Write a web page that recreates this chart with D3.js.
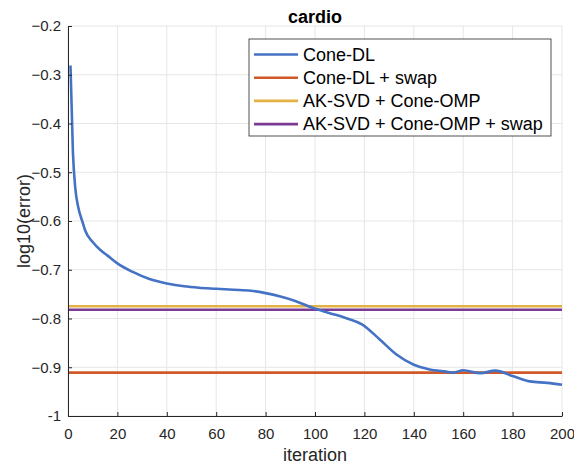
<!DOCTYPE html>
<html>
<head>
<meta charset="utf-8">
<script src="https://cdn.jsdelivr.net/npm/d3@7"></script>
<style>
  body { margin: 0; background: #fff; }
  svg { font-family: "Liberation Sans", Arial, sans-serif; }
  .grid line { stroke: #e6e6e6; stroke-width: 1; }
  .axis path, .axis line { stroke: #262626; }
  .axis text { fill: #262626; font-size: 15px; }
</style>
</head>
<body>
<script>
// Cone-DL error per iteration
var iters = [1, 2, 3, 4, 6, 7, 10, 13, 16, 20, 26, 33, 40, 47, 53, 60, 67, 74, 80, 86, 92,
  99, 106, 113, 119, 126, 133, 140, 146, 153, 156, 160, 167, 173, 180, 187, 194, 200];
var coneDL = [-0.281, -0.46, -0.535, -0.568, -0.604, -0.62, -0.643, -0.659, -0.671, -0.687,
  -0.704, -0.719, -0.728, -0.734, -0.737, -0.739, -0.741, -0.743, -0.748, -0.755, -0.764,
  -0.778, -0.789, -0.80, -0.812, -0.842, -0.874, -0.895, -0.904, -0.909, -0.911,
  -0.906, -0.912, -0.907, -0.918, -0.929, -0.932, -0.936];

// constant baselines
var seriesNames = ["Cone-DL", "Cone-DL + swap", "AK-SVD + Cone-OMP", "AK-SVD + Cone-OMP + swap"];
var flatValues = [null, -0.911, -0.775, -0.782];
var colors = ["#4472c4", "#d0592a", "#e4b144", "#7b3a93"];

var xTicks = [0, 20, 40, 60, 80, 100, 120, 140, 160, 180, 200];
var yTicks = [-1, -0.9, -0.8, -0.7, -0.6, -0.5, -0.4, -0.3, -0.2];

var W = 574, H = 464;
var margin = {top: 26, right: 12, bottom: 48, left: 68},
    width = W - margin.left - margin.right,
    height = H - margin.top - margin.bottom;

var svg = d3.select("body").append("svg")
    .attr("width", W)
    .attr("height", H);

var g = svg.append("g")
    .attr("transform", "translate(" + margin.left + "," + margin.top + ")");

var x = d3.scaleLinear().domain([0, 200]).range([0, width]);
var y = d3.scaleLinear().domain([-1, -0.2]).range([height, 0]);

// grid
g.append("g").attr("class", "grid")
  .selectAll("line").data(xTicks).enter().append("line")
    .attr("x1", d => x(d)).attr("x2", d => x(d))
    .attr("y1", 0).attr("y2", height);
g.append("g").attr("class", "grid")
  .selectAll("line").data(yTicks).enter().append("line")
    .attr("x1", 0).attr("x2", width)
    .attr("y1", d => y(d)).attr("y2", d => y(d));

// flat lines
flatValues.forEach(function(v, i) {
  if (v === null) return;
  g.append("line")
    .attr("x1", x(0)).attr("x2", x(200))
    .attr("y1", y(v)).attr("y2", y(v))
    .attr("stroke", colors[i])
    .attr("stroke-width", 2.6);
});

// Cone-DL curve
var line = d3.line()
  .x(function(d, i) { return x(iters[i]); })
  .y(function(d) { return y(d); })
  .curve(d3.curveMonotoneX);

g.append("path")
  .datum(coneDL)
  .attr("fill", "none")
  .attr("stroke", colors[0])
  .attr("stroke-width", 2.6)
  .attr("d", line);

// axes (ticks pointing inward like matlab)
g.append("g")
  .attr("class", "axis")
  .attr("transform", "translate(0," + height + ")")
  .call(d3.axisBottom(x).tickValues(xTicks).tickSizeInner(-4).tickSizeOuter(0).tickPadding(12))
  .call(s => s.selectAll("text").attr("dy", "0.71em"));

g.append("g")
  .attr("class", "axis")
  .call(d3.axisLeft(y).tickValues(yTicks).tickSizeInner(-4).tickSizeOuter(0).tickPadding(7)
    .tickFormat(d => d === -1 ? "-1" : d3.format(".1f")(d)));

// title + labels
svg.append("text")
  .text("cardio")
  .attr("x", margin.left + width / 2)
  .attr("y", 23)
  .attr("text-anchor", "middle")
  .style("font-weight", "bold")
  .style("font-size", "18px")
  .attr("fill", "#000");

svg.append("text")
  .text("iteration")
  .attr("x", margin.left + width / 2)
  .attr("y", 461)
  .attr("text-anchor", "middle")
  .style("font-size", "18px")
  .attr("fill", "#262626");

svg.append("text")
  .text("log10(error)")
  .attr("transform", "translate(29.5," + (margin.top + height / 2) + ") rotate(-90)")
  .attr("text-anchor", "middle")
  .style("font-size", "18px")
  .attr("fill", "#262626");

// legend
var leg = svg.append("g").attr("transform", "translate(249,39)");
leg.append("rect")
  .attr("width", 302).attr("height", 97)
  .attr("fill", "#fff")
  .attr("stroke", "#262626")
  .attr("stroke-width", 0.8);

var rows = leg.selectAll(".row").data(seriesNames).enter().append("g")
  .attr("transform", (d, i) => "translate(0," + (15.5 + i * 23.2) + ")");
rows.append("line")
  .attr("x1", 5).attr("x2", 49)
  .attr("stroke", (d, i) => colors[i])
  .attr("stroke-width", 2.6);
rows.append("text")
  .text(d => d)
  .attr("x", 54)
  .attr("dy", "0.35em")
  .style("font-size", "18px")
  .attr("fill", "#000");
</script>
</body>
</html>
